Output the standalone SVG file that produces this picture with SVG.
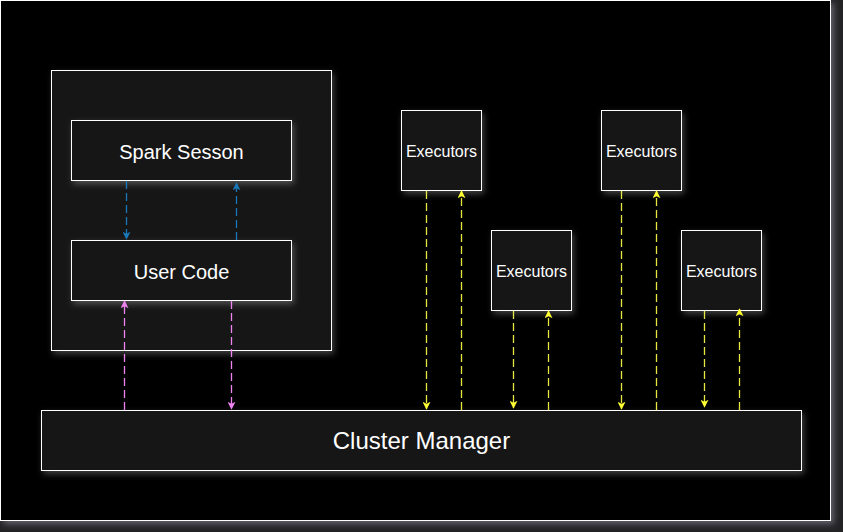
<svg xmlns="http://www.w3.org/2000/svg" width="843" height="532" viewBox="0 0 843 532">
<defs>
<filter id="fshadow" x="-10%" y="-10%" width="130%" height="130%">
<feDropShadow dx="2" dy="3" stdDeviation="3" flood-color="#ffffff" flood-opacity="0.25"/>
</filter>
<filter id="pshadow" x="-5%" y="-5%" width="110%" height="110%">
<feDropShadow dx="3" dy="3" stdDeviation="3" flood-color="#6a6a72" flood-opacity="0.9"/>
</filter>
<marker id="ab" viewBox="0 0 10 10" refX="9" refY="5" markerWidth="8" markerHeight="8" markerUnits="userSpaceOnUse" orient="auto"><path d="M0,0 L10,5 L0,10 L2.5,5 Z" fill="#1a78b8"/></marker>
<marker id="ap" viewBox="0 0 10 10" refX="9" refY="5" markerWidth="8" markerHeight="8" markerUnits="userSpaceOnUse" orient="auto"><path d="M0,0 L10,5 L0,10 L2.5,5 Z" fill="#ee82ee"/></marker>
<marker id="ay" viewBox="0 0 10 10" refX="9" refY="5" markerWidth="8" markerHeight="8" markerUnits="userSpaceOnUse" orient="auto"><path d="M0,0 L10,5 L0,10 L2.5,5 Z" fill="#ffff33"/></marker>
</defs>
<style>
.box{fill:#141414;stroke:#ffffff;stroke-width:1;filter:url(#fshadow);}
.t{font-family:"Liberation Sans",Arial,sans-serif;fill:#ffffff;text-anchor:middle;dominant-baseline:central;}
.c{fill:none;stroke-width:1.3;stroke-dasharray:8 4;}
.cb{stroke:#1a78b8;marker-end:url(#ab);}
.cp{stroke:#ee82ee;marker-end:url(#ap);}
.cy{stroke:#e6e640;marker-end:url(#ay);}
</style>
<rect x="0" y="0" width="843" height="532" fill="#232325"/>
<rect x="0.5" y="0.5" width="830" height="520" fill="#000000" stroke="#ffffff" stroke-width="1" filter="url(#pshadow)"/>
<g id="driver">
<rect class="box" x="51.5" y="70.5" width="280" height="280"/>
</g>
<g id="spark-session">
<rect class="box" x="71.5" y="120.5" width="220" height="60"/>
<text class="t" x="181.5" y="152" font-size="20">Spark Sesson</text>
</g>
<g id="user-code">
<rect class="box" x="71.5" y="240.5" width="220" height="60"/>
<text class="t" x="181.5" y="272" font-size="20">User Code</text>
</g>
<g id="cluster-manager">
<rect class="box" x="41.5" y="410.5" width="760" height="60"/>
<text class="t" x="421.5" y="440.5" font-size="24">Cluster Manager</text>
</g>
<g id="executors-1">
<rect class="box" x="401.5" y="110.5" width="80" height="80"/>
<text class="t" x="441.5" y="151" font-size="16">Executors</text>
</g>
<g id="executors-2">
<rect class="box" x="491.5" y="230.5" width="80" height="80"/>
<text class="t" x="531.5" y="271" font-size="16">Executors</text>
</g>
<g id="executors-3">
<rect class="box" x="601.5" y="110.5" width="80" height="80"/>
<text class="t" x="641.5" y="151" font-size="16">Executors</text>
</g>
<g id="executors-4">
<rect class="box" x="681.5" y="230.5" width="80" height="80"/>
<text class="t" x="721.5" y="271" font-size="16">Executors</text>
</g>
<g id="connectors">
<path class="c cb" d="M126.5,181 V239"/>
<path class="c cb" d="M236.5,240 V183"/>
<path class="c cp" d="M124.5,410 V301"/>
<path class="c cp" d="M231.5,301 V409"/>
<path class="c cy" d="M426.5,191 V409"/>
<path class="c cy" d="M461.5,410 V191"/>
<path class="c cy" d="M513.5,311 V408"/>
<path class="c cy" d="M548.5,410 V311"/>
<path class="c cy" d="M621.5,191 V409"/>
<path class="c cy" d="M656.5,410 V191"/>
<path class="c cy" d="M704.5,311 V407"/>
<path class="c cy" d="M739.5,410 V309"/>
</g>
</svg>
